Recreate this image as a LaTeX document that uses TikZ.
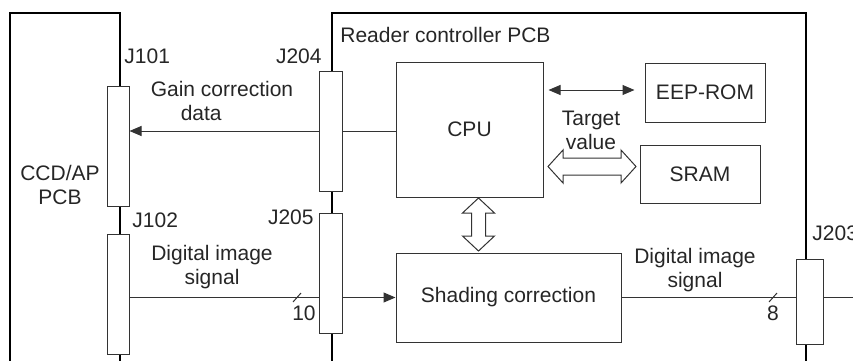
\documentclass[tikz,border=0pt]{standalone}
\usepackage{fontspec}
\setmainfont{Liberation Sans}
\usetikzlibrary{arrows.meta, positioning}

\begin{document}
\begin{tikzpicture}[x=0.5pt, y=-0.5pt, >={Triangle[length=6pt, width=5pt]},
  font=\fontsize{10.5}{12}\selectfont]

% --- Style Definitions ---
% Board outlines (open at the bottom)
\tikzstyle{pcb_line}=[line width=1pt, black]
% Functional blocks on the board
\tikzstyle{block}=[rectangle, draw=black!80, line width=0.5pt, inner sep=0pt, text=black!85]
% Connectors sitting on the board edge
\tikzstyle{conn}=[rectangle, draw=black!80, fill=white, line width=0.5pt, inner sep=0pt, minimum width=11pt, minimum height=60pt]
% Signal lines
\tikzstyle{sig_line}=[line width=0.5pt, black!80]
% Hollow bus arrows
\tikzstyle{bus_arrow}=[draw=black!80, fill=white, line width=0.5pt, line join=miter]
% Plain text labels
\tikzstyle{lbl}=[inner sep=0pt, text=black!85]

\useasboundingbox (0,0) rectangle (853,360);
\clip (0,0) rectangle (853,360);

% --- Board Outlines ---
\draw[pcb_line] (10,370) -- (10,13) -- (120,13) -- (120,370);
\draw[pcb_line] (332,370) -- (332,13) -- (806,13) -- (806,370);

% --- Connectors ---
\node[conn] (J101) at (118,146) {};
\node[conn] (J102) at (118,294) {};
\node[conn, minimum width=11.5pt] (J204) at (330.5,131) {};
\node[conn, minimum width=11.5pt] (J205) at (330.5,273) {};
\node[conn, minimum width=13.5pt, minimum height=42.5pt] (J203) at (809.5,301.5) {};

% --- Blocks ---
\node[block, minimum width=73.5pt, minimum height=67.5pt] (CPU) at (469.5,129.5) {CPU};
\node[block, minimum width=60pt, minimum height=29.5pt] (EEPROM) at (705,92.5) {EEP-ROM};
\node[block, minimum width=60pt, minimum height=29pt] (SRAM) at (700,174) {SRAM};
\node[block, minimum width=112.5pt, minimum height=44.5pt] (SHD) at (508.5,297.5) {Shading correction};

% --- Bus Arrows ---
% CPU <=> SRAM
\draw[bus_arrow] (548,166.5) -- (563,150) -- (563,158) -- (621,158) -- (621,150) -- (636,166.5)
  -- (621,183) -- (621,175) -- (563,175) -- (563,183) -- cycle;
% CPU <=> Shading correction
\draw[bus_arrow] (478.5,198) -- (494.5,213) -- (485.5,213) -- (485.5,236) -- (494.5,236) -- (478.5,251)
  -- (462.5,236) -- (471.5,236) -- (471.5,213) -- (462.5,213) -- cycle;

% --- Connections ---
\coordinate (out_edge) at (860,297.5);
\draw[sig_line, ->] (J204.west) -- (J101.east |- J204.west);
\draw[sig_line] (J204.east) -- (CPU.west |- J204.east);
\draw[sig_line, <->, shorten <=2.5pt, shorten >=5pt] ([yshift=1.25pt]CPU.east |- EEPROM.west) -- ([yshift=1.25pt]EEPROM.west);
\draw[sig_line] (J102.east |- SHD.west) -- (J205.west |- SHD.west);
\draw[sig_line, ->] (J205.east |- SHD.west) -- (SHD.west);
\draw[sig_line] (SHD.east) -- (J203.west |- SHD.east);
\draw[sig_line] (J203.east |- SHD.east) -- (out_edge);

% bus width marks
\draw[sig_line] (293,302) -- (301,293);
\draw[sig_line] (769,302) -- (777,293);

% --- Labels ---
\node[lbl, align=center] (ccd_lbl) at (60,185) {CCD/AP\\PCB};
\node[lbl, anchor=west] (rc_lbl) at (340,35) {Reader controller PCB};
\node[lbl, anchor=west] (J101_lbl) at (124,56) {J101};
\node[lbl, anchor=east] (J204_lbl) at (322,56) {J204};
\node[lbl, anchor=west] (J102_lbl) at (132,220) {J102};
\node[lbl, anchor=east] (J205_lbl) at (314,217) {J205};
\node[lbl, anchor=west] (J203_lbl) at (812,233) {J203};
\node[lbl, align=left] (gain_lbl) at (222,101) {Gain correction\\\hspace*{15pt}data};
\node[lbl, align=center] (dig_in_lbl) at (212,267) {Digital image\\signal};
\node[lbl, align=center] (dig_out_lbl) at (695,270) {Digital image\\signal};
\node[lbl, align=center] (tgt_lbl) at (591,130) {Target\\value};
\node[lbl] (w10_lbl) at (304,313) {10};
\node[lbl] (w8_lbl) at (773,313) {8};

\end{tikzpicture}
\end{document}
